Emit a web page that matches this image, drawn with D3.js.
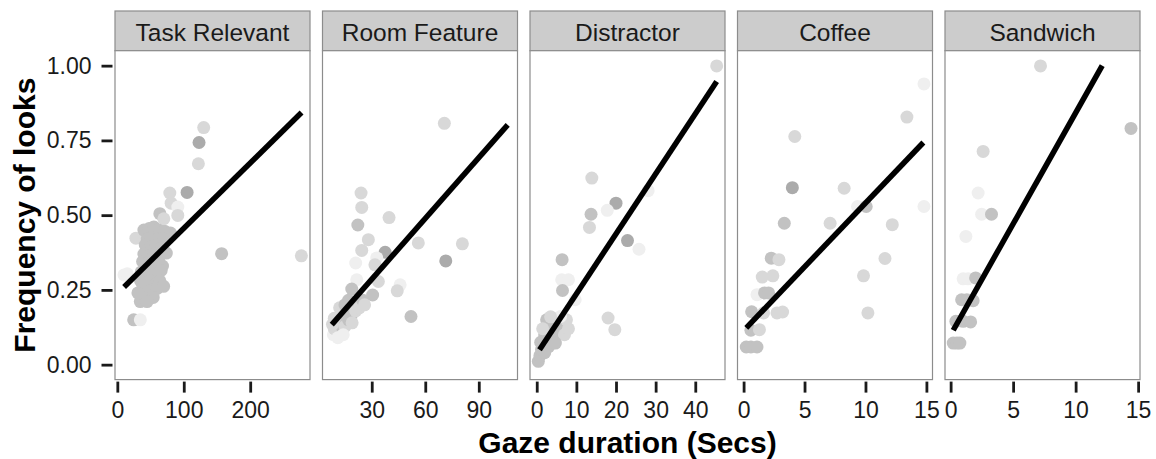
<!DOCTYPE html>
<html>
<head>
<meta charset="utf-8">
<script src="https://cdn.jsdelivr.net/npm/d3@7"></script>
<style>
  body { margin: 0; background: #fff; }
  text { font-family: "Liberation Sans", Arial, sans-serif; }
</style>
</head>
<body>
<div id="myPlot"></div>
<script>
// facet names
var panelNames = ["Task Relevant", "Room Feature", "Distractor", "Coffee", "Sandwich"];

// x axis ranges and ticks, one per facet
var xRanges = [[-3.5, 290], [2.4, 111.7], [-1.7, 47.5], [-0.5, 15.5], [-0.45, 15.15]];
var xTicks = [[0, 100, 200], [30, 60, 90], [0, 10, 20, 30, 40], [0, 5, 10, 15], [0, 5, 10, 15]];

var yRange = [-0.05, 1.05];
var yTicks = [0, 0.25, 0.5, 0.75, 1];

// points: [gaze secs, frequency, shade level 1..4]
var taskRelevant = [
  [130, 0.793, 2], [123, 0.743, 4], [122, 0.672, 2], [105, 0.576, 4], [79, 0.574, 2],
  [81, 0.54, 2], [91, 0.527, 1], [91, 0.499, 2], [64, 0.505, 3], [70, 0.488, 2],
  [28, 0.423, 2], [157, 0.371, 3], [277, 0.364, 2], [10, 0.30, 1], [15, 0.304, 1],
  [24.6, 0.15, 3], [34.6, 0.15, 1], [43.6, 0.445, 2], [52, 0.457, 3], [72, 0.445, 3],
  [40, 0.45, 3], [48, 0.455, 3], [55, 0.46, 3], [62, 0.45, 3], [70, 0.445, 3], [80, 0.44, 3],
  [45, 0.42, 3], [52, 0.425, 3], [60, 0.42, 3], [68, 0.42, 3],
  [42, 0.40, 3], [50, 0.395, 3], [58, 0.40, 3], [66, 0.39, 3],
  [40, 0.37, 3], [47, 0.365, 3], [55, 0.37, 3], [63, 0.36, 3],
  [38, 0.345, 3], [45, 0.34, 3], [53, 0.335, 3], [60, 0.34, 3], [68, 0.33, 3],
  [36, 0.31, 3], [44, 0.305, 3], [52, 0.31, 3], [60, 0.30, 3], [66, 0.315, 3],
  [35, 0.28, 3], [42, 0.275, 3], [50, 0.28, 3], [58, 0.27, 3], [64, 0.28, 3],
  [37, 0.25, 3], [45, 0.245, 3], [53, 0.25, 3], [60, 0.255, 3],
  [38, 0.225, 3], [46, 0.22, 3], [54, 0.225, 3],
  [73.7, 0.373, 3], [69.7, 0.262, 3], [34.6, 0.211, 3], [31, 0.24, 3], [44.7, 0.211, 3]
];
var roomFeature = [
  [70.7, 0.807, 2], [24, 0.574, 2], [24.4, 0.526, 2], [22.2, 0.467, 3], [39.7, 0.492, 2],
  [28.1, 0.418, 2], [24.4, 0.382, 2], [37.5, 0.376, 4], [56.1, 0.407, 2], [80.8, 0.404, 2],
  [71.5, 0.347, 4], [21, 0.34, 1], [32.8, 0.357, 1], [31.8, 0.334, 2], [33.7, 0.278, 2],
  [21.6, 0.284, 1], [18.8, 0.253, 3], [30.5, 0.233, 3], [45.9, 0.267, 1], [44.3, 0.247, 2],
  [52, 0.161, 3],
  [8.5, 0.10, 1], [9, 0.12, 2], [10, 0.14, 3], [11, 0.115, 2], [12, 0.16, 3], [13, 0.13, 3],
  [14, 0.17, 3], [15, 0.128, 2], [16, 0.18, 3], [17, 0.15, 3], [18, 0.19, 3], [19, 0.17, 3],
  [20, 0.20, 3], [21, 0.18, 2], [22, 0.21, 3], [23, 0.19, 2], [25, 0.215, 3], [26, 0.20, 2],
  [12, 0.19, 2], [15, 0.20, 3], [9, 0.155, 2], [14, 0.10, 1], [19, 0.14, 2], [8, 0.135, 2],
  [11, 0.09, 1], [17, 0.215, 3]
];
var distractor = [
  [45.4, 0.999, 2], [13.9, 0.624, 2], [28.1, 0.582, 1], [20, 0.54, 4], [13.7, 0.503, 3],
  [17.8, 0.516, 1], [13.3, 0.459, 2], [22.9, 0.415, 4], [25.8, 0.386, 1], [6.4, 0.351, 3],
  [6.3, 0.284, 1], [8, 0.284, 1], [6.5, 0.248, 3], [9.7, 0.217, 1], [18, 0.156, 2],
  [19.7, 0.117, 2],
  [0.4, 0.011, 3], [0.8, 0.03, 3], [1.2, 0.05, 3], [2, 0.04, 3], [2.5, 0.07, 3], [3, 0.06, 3],
  [3.5, 0.09, 3], [4, 0.08, 3], [4.5, 0.11, 3], [5, 0.10, 3], [5.5, 0.125, 3], [6, 0.14, 3],
  [6.4, 0.111, 3], [7, 0.10, 2], [7.5, 0.15, 2], [3, 0.12, 3], [4, 0.14, 3], [2, 0.10, 3],
  [4.7, 0.072, 3], [8, 0.12, 2], [1, 0.075, 3], [6, 0.161, 1], [2.5, 0.15, 3], [3.5, 0.16, 2],
  [1.5, 0.12, 2]
];
var coffee = [
  [14.8, 0.939, 1], [13.4, 0.828, 2], [4.2, 0.763, 2], [4.0, 0.592, 4], [8.25, 0.59, 2],
  [9.35, 0.529, 1], [10.06, 0.529, 3], [14.8, 0.529, 1], [3.34, 0.473, 3], [7.1, 0.473, 2],
  [12.2, 0.468, 2], [2.27, 0.356, 3], [2.9, 0.351, 2], [11.6, 0.355, 2], [1.53, 0.293, 2],
  [2.4, 0.297, 2], [9.84, 0.297, 2], [1.1, 0.234, 1], [1.72, 0.24, 3], [2.05, 0.24, 3],
  [0.66, 0.177, 3], [1.64, 0.173, 2], [2.74, 0.173, 2], [3.2, 0.176, 2], [10.2, 0.173, 2],
  [0.6, 0.115, 3], [1.3, 0.117, 2], [0.22, 0.059, 3], [0.6, 0.059, 3], [1.1, 0.059, 3]
];
var sandwich = [
  [7.19, 0.999, 2], [14.43, 0.79, 3], [2.6, 0.713, 2], [2.2, 0.574, 1], [2.48, 0.503, 1],
  [3.27, 0.503, 3], [1.22, 0.429, 1], [1.0, 0.287, 1], [1.4, 0.287, 1], [2.0, 0.29, 3],
  [0.88, 0.217, 3], [1.3, 0.217, 3], [1.8, 0.214, 3], [0.42, 0.145, 3], [1.0, 0.145, 3],
  [1.6, 0.143, 3], [0.21, 0.072, 3], [0.5, 0.072, 3], [0.74, 0.072, 3]
];
var panelPoints = [taskRelevant, roomFeature, distractor, coffee, sandwich];

// linear fits
var fitIntercept = [0.2377, 0.0825, 0.036, 0.1136, 0.0994];
var fitSlope = [0.002183, 0.006775, 0.02007, 0.04267, 0.07426];
var fitFrom = [10.2, 7.6, 0.7, 0.22, 0.21];
var fitTo = [277.3, 106.2, 45.4, 14.75, 14.43];

//////////////////////////////////////////////////////////////////

var svgWidth = 1156;
var svgHeight = 459;

var margin = { top: 11, right: 16, bottom: 80, left: 115 };
var stripH = 39.7;
var gap = 12.5;
var panelW = (svgWidth - margin.left - margin.right - gap * 4) / 5;
var panelH = svgHeight - margin.top - margin.bottom - stripH + 0.6;

var svg = d3.select("#myPlot").append("svg")
  .attr("width", svgWidth)
  .attr("height", svgHeight);

var yScale = d3.scaleLinear().domain(yRange).range([panelH, 0]);
var shade = d3.scaleLinear().domain([1, 4]).range(["#efefef", "#ababab"]);

panelNames.forEach(function (name, i) {
  var g = svg.append("g")
    .attr("transform", `translate(${margin.left + i * (panelW + gap)}, ${margin.top})`);

  // strip
  g.append("rect")
    .attr("x", 0).attr("y", 0)
    .attr("width", panelW).attr("height", stripH)
    .attr("fill", "#cccccc")
    .attr("stroke", "#8c8c8c")
    .attr("stroke-width", 1.2);
  g.append("text")
    .attr("x", panelW / 2)
    .attr("y", 29.5)
    .attr("text-anchor", "middle")
    .style("font-size", "24.5px")
    .attr("fill", "#1a1a1a")
    .text(name);

  var p = g.append("g").attr("transform", `translate(0, ${stripH})`);

  p.append("rect")
    .attr("width", panelW).attr("height", panelH)
    .attr("fill", "#fff");

  var xScale = d3.scaleLinear().domain(xRanges[i]).range([0, panelW]);

  // points
  p.selectAll("circle").data(panelPoints[i])
    .enter().append("circle")
    .attr("cx", d => xScale(d[0]))
    .attr("cy", d => yScale(d[1]))
    .attr("r", 6.5)
    .attr("fill", d => shade(d[2]));

  // fitted line, dropped above y = 1 like the original
  var x1 = Math.min(fitTo[i], (1 - fitIntercept[i]) / fitSlope[i]);
  var fitLine = [fitFrom[i], x1].map(x => [x, fitIntercept[i] + fitSlope[i] * x]);
  p.append("path")
    .datum(fitLine)
    .attr("d", d3.line().x(d => xScale(d[0])).y(d => yScale(d[1])))
    .attr("fill", "none")
    .attr("stroke", "#000")
    .attr("stroke-width", 5.5);

  // border on top
  p.append("rect")
    .attr("width", panelW).attr("height", panelH)
    .attr("fill", "none")
    .attr("stroke", "#8c8c8c")
    .attr("stroke-width", 1.2);

  // x axis
  var xAxis = d3.axisBottom(xScale).tickValues(xTicks[i]).tickSize(11).tickPadding(9.5)
    .tickFormat(d3.format("d"));
  var ax = p.append("g")
    .attr("transform", `translate(0, ${panelH + 2})`)
    .call(xAxis);
  ax.select(".domain").remove();
  ax.selectAll("line").attr("stroke", "#1a1a1a").attr("stroke-width", 2.8);
  ax.selectAll("text").style("font-size", "23px").attr("fill", "#1a1a1a");

  // y axis on first panel only
  if (i === 0) {
    var yAxis = d3.axisLeft(yScale).tickValues(yTicks).tickSize(11).tickPadding(10)
      .tickFormat(d3.format(".2f"));
    var ay = p.append("g")
      .attr("transform", "translate(-2.5, 0)")
      .call(yAxis);
    ay.select(".domain").remove();
    ay.selectAll("line").attr("stroke", "#1a1a1a").attr("stroke-width", 2.8);
    ay.selectAll("text").style("font-size", "23px").attr("fill", "#1a1a1a");
  }
});

// axis titles
svg.append("text")
  .attr("x", margin.left + (svgWidth - margin.left - margin.right) / 2)
  .attr("y", 453)
  .attr("text-anchor", "middle")
  .style("font-size", "30px")
  .style("font-weight", "bold")
  .text("Gaze duration (Secs)");

svg.append("text")
  .attr("transform", `translate(35, ${margin.top + stripH + panelH / 2})rotate(-90)`)
  .attr("text-anchor", "middle")
  .style("font-size", "30px")
  .style("font-weight", "bold")
  .text("Frequency of looks");
</script>
</body>
</html>
